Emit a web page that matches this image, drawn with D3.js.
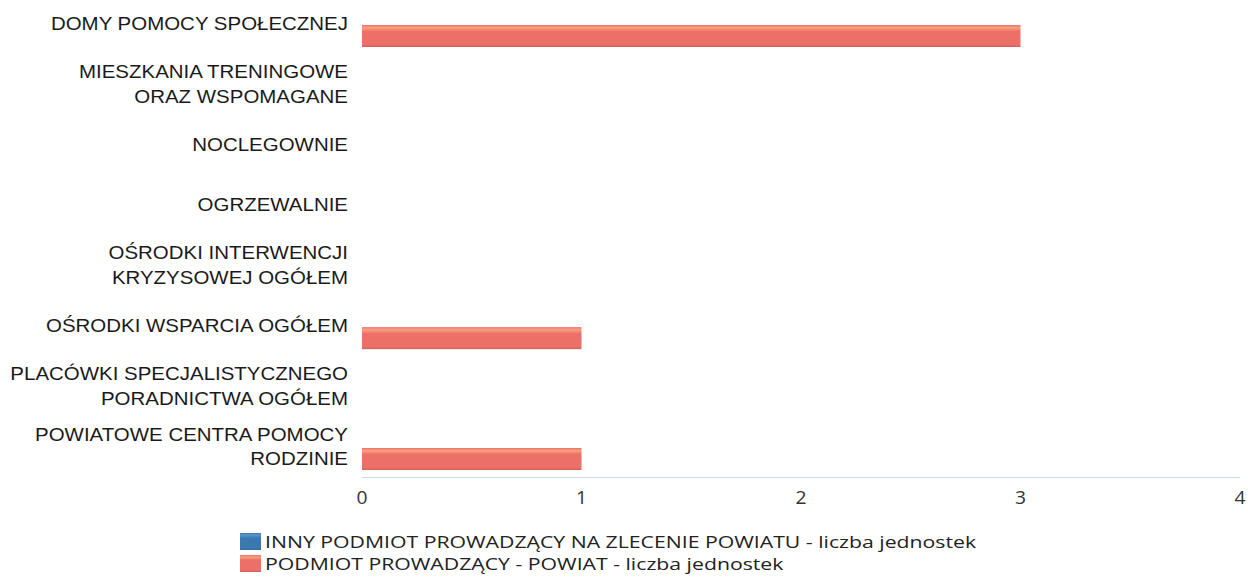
<!DOCTYPE html>
<html>
<head>
<meta charset="utf-8">
<script src="https://cdn.jsdelivr.net/npm/d3@7"></script>
<style>
  html, body { margin: 0; padding: 0; background: #ffffff; }
  svg { display: block; }
</style>
</head>
<body>
<svg id="chart" width="1248" height="577"></svg>
<script>
const categories = [
  "DOMY POMOCY SPOŁECZNEJ",
  "MIESZKANIA TRENINGOWE\nORAZ WSPOMAGANE",
  "NOCLEGOWNIE",
  "OGRZEWALNIE",
  "OŚRODKI INTERWENCJI\nKRYZYSOWEJ OGÓŁEM",
  "OŚRODKI WSPARCIA OGÓŁEM",
  "PLACÓWKI SPECJALISTYCZNEGO\nPORADNICTWA OGÓŁEM",
  "POWIATOWE CENTRA POMOCY\nRODZINIE"
];
const seriesNames = [
  "INNY PODMIOT PROWADZĄCY NA ZLECENIE POWIATU - liczba jednostek",
  "PODMIOT PROWADZĄCY - POWIAT - liczba jednostek"
];
const innyValues = [0, 0, 0, 0, 0, 0, 0, 0];
const powiatValues = [3, 0, 0, 0, 0, 1, 0, 1];
const xTicks = [0, 1, 2, 3, 4];

const series = [
  { key: "inny", name: seriesNames[0], values: innyValues, c1: "#5b97c9", c2: "#3a78b0" },
  { key: "powiat", name: seriesNames[1], values: powiatValues, c1: "#f7a27e", c2: "#ec6f68" }
];

const svg = d3.select("#chart");
const defs = svg.append("defs");
series.forEach(s => {
  const g = defs.append("linearGradient").attr("id", "grad-" + s.key)
    .attr("x1", 0).attr("y1", 0).attr("x2", 0).attr("y2", 1);
  g.append("stop").attr("offset", "0%").attr("stop-color", s.c2);
  g.append("stop").attr("offset", "12%").attr("stop-color", s.c1);
  g.append("stop").attr("offset", "30%").attr("stop-color", s.c2);
  g.append("stop").attr("offset", "90%").attr("stop-color", s.c2);
  g.append("stop").attr("offset", "100%").attr("stop-color", d3.color(s.c2).darker(0.4));
});

const x = d3.scaleLinear().domain([0, 4]).range([362, 1240]);
const y = d3.scaleBand().domain(categories).range([-5.2, 478.2]).padding(0);
const bw = y.bandwidth();
const ySub = d3.scaleBand().domain(series.map(s => s.key)).range([bw / 2 - 22, bw / 2 + 22]).padding(0);

// axis line
svg.append("line")
  .attr("x1", x(0)).attr("x2", x(4))
  .attr("y1", 477.5).attr("y2", 477.5)
  .attr("stroke", "#cdd8e2").attr("stroke-width", 1);

// bars
series.forEach(s => {
  svg.append("g").selectAll("rect")
    .data(categories.map((c, i) => ({ c, v: s.values[i] })).filter(d => d.v > 0))
    .join("rect")
    .attr("x", x(0))
    .attr("y", d => y(d.c) + ySub(s.key))
    .attr("width", d => x(d.v) - x(0))
    .attr("height", ySub.bandwidth())
    .attr("fill", "url(#grad-" + s.key + ")");
});

// category labels (horizontally stretched like the reference)
const labelG = svg.append("g")
  .attr("font-family", "'Liberation Sans', Arial, sans-serif")
  .attr("font-size", 18)
  .attr("fill", "#1a1a1a")
  .attr("text-anchor", "end");
categories.forEach(c => {
  const lines = c.split("\n");
  const cy = y(c) + bw / 2;
  const lh = 25;
  const t = labelG.append("text")
    .attr("transform", `translate(348,${cy}) scale(1.137,1)`);
  lines.forEach((ln, j) => {
    t.append("tspan")
      .attr("x", 0)
      .attr("y", (j - (lines.length - 1) / 2) * lh + 5)
      .text(ln);
  });
});

// x tick labels
const axisG = svg.append("g").attr("transform", "translate(0,504)");
axisG.selectAll("text").data(xTicks).join("text")
  .attr("transform", d => `translate(${x(d)},0) scale(1.1,1)`)
  .attr("text-anchor", "middle")
  .attr("font-family", "'Open Sans', sans-serif")
  .attr("font-size", 17.5)
  .attr("fill", "#333")
  .text(d => d);

// legend
const leg = svg.append("g").attr("font-family", "'Open Sans', sans-serif").attr("font-size", 16.5).attr("fill", "#222");
series.forEach((s, i) => {
  const ly = 533 + i * 22;
  leg.append("rect").attr("x", 240).attr("y", ly).attr("width", 21).attr("height", 17)
    .attr("fill", "url(#grad-" + s.key + ")");
  leg.append("text")
    .attr("transform", `translate(265,${ly + 14.5}) scale(1.287,1)`)
    .text(s.name);
});
</script>
</body>
</html>
